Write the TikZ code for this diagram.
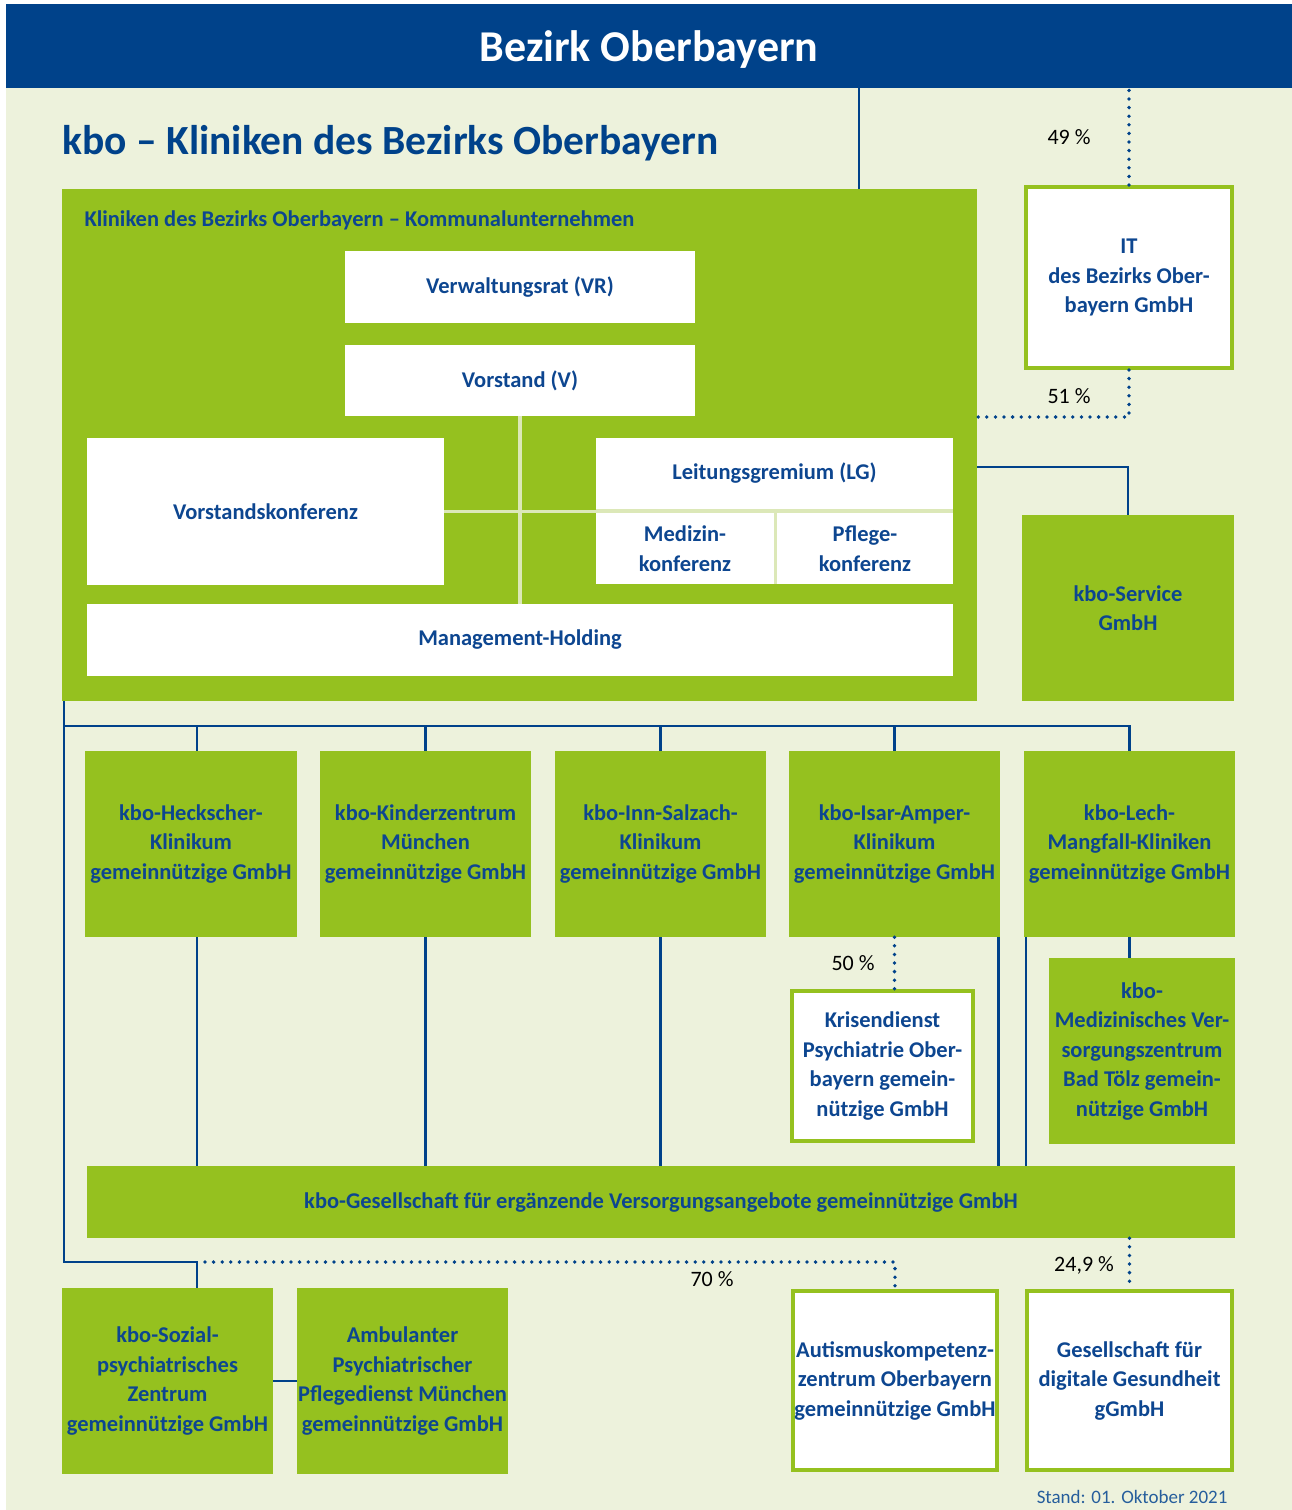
\documentclass[tikz,border=0pt]{standalone}
\usepackage{fontspec}
\setmainfont{Carlito}
\definecolor{kblue}{HTML}{00428A}
\definecolor{kgreen}{HTML}{95C11F}
\definecolor{kbg}{HTML}{EDF2DC}
\definecolor{ktext}{HTML}{0D4690}
\definecolor{klight}{HTML}{DCE8B8}
\begin{document}
\begin{tikzpicture}[x=1pt,y=-1pt,
  boxfont/.style={font=\fontsize{22.5}{29.5}\selectfont\bfseries, text=ktext, align=center},
  gbox/.style={boxfont, fill=kgreen, inner sep=0pt},
  wbox/.style={boxfont, fill=white, inner sep=0pt},
  obox/.style={boxfont, fill=white, draw=kgreen, line width=4pt, inner sep=0pt},
  conn/.style={draw=kblue, line width=2.6pt},
  dotline/.style={draw=kblue, line width=3.8pt, line cap=round, dash pattern=on 0pt off 8.6pt},
  sepline/.style={draw=klight, line width=3.5pt},
  pct/.style={font=\fontsize{22}{26}\selectfont, text=black}]
\useasboundingbox (0,0) rectangle (1292,1510);
\fill[white] (0,0) rectangle (1292,1510);
\fill[kbg] (6,88) rectangle (1292,1510);
% header
\node[fill=kblue, minimum width=1286, minimum height=84, inner sep=0pt] (head) at (649,46) {};
\node[text=white, font=\fontsize{44}{50}\selectfont\bfseries] (headtxt) at (649,50) {Bezirk Oberbayern};
\node[anchor=west, text=kblue, font=\fontsize{41.5}{48}\selectfont\bfseries] (title) at (59,143) {kbo – Kliniken des Bezirks Oberbayern};
% main box
\node[fill=kgreen, minimum width=915, minimum height=512, inner sep=0pt] (main) at (519.5,445) {};
\node[anchor=west, text=ktext, font=\fontsize{22.5}{26}\selectfont\bfseries] (mainlbl) at (81,220) {Kliniken des Bezirks Oberbayern – Kommunalunternehmen};
\node[wbox, minimum width=350, minimum height=72] (vr) at (520,287) {Verwaltungsrat (VR)};
\node[wbox, minimum width=350, minimum height=71] (vs) at (520,380.5) {Vorstand (V)};
\node[wbox, minimum width=357, minimum height=147] (vk) at (265.5,511.5) {Vorstandskonferenz};
\fill[klight] (596,438) rectangle (953,584);
\node[wbox, minimum width=357, minimum height=71] (lg) at (774.5,473.5) {Leitungsgremium (LG)};
\node[wbox, minimum width=178, minimum height=71] (mk) at (685,548.5) {Medizin-\\konferenz};
\node[wbox, minimum width=176, minimum height=71] (pk) at (865,548.5) {Pflege-\\konferenz};
\node[wbox, minimum width=866, minimum height=72] (mh) at (520,640) {Management-Holding};
\draw[sepline] (vs.south) -- (vs.south |- mh.north);
\draw[sepline] (vk.east) -- (vk.east -| lg.west);
% IT and service
\node[obox, minimum width=206, minimum height=181] (it) at (1129,277.5) {IT\\des Bezirks Ober-\\bayern GmbH};
\node[gbox, minimum width=212, minimum height=186] (svc) at (1128,608) {kbo-Service\\GmbH};
% row of clinics
\node[gbox, minimum width=212, minimum height=186] (heck) at (191,844) {kbo-Heckscher-\\Klinikum\\gemeinnützige GmbH};
\node[gbox, minimum width=211, minimum height=186] (kind) at (425.5,844) {kbo-Kinderzentrum\\München\\gemeinnützige GmbH};
\node[gbox, minimum width=211, minimum height=186] (inn) at (660.5,844) {kbo-Inn-Salzach-\\Klinikum\\gemeinnützige GmbH};
\node[gbox, minimum width=211, minimum height=186] (isar) at (894.5,844) {kbo-Isar-Amper-\\Klinikum\\gemeinnützige GmbH};
\node[gbox, minimum width=211, minimum height=186] (lech) at (1129.5,844) {kbo-Lech-\\Mangfall-Kliniken\\gemeinnützige GmbH};
\node[obox, minimum width=181, minimum height=150] (kris) at (882.5,1066) {Krisendienst\\Psychiatrie Ober-\\bayern gemein-\\nützige GmbH};
\node[gbox, minimum width=186, minimum height=186] (mvz) at (1142,1051) {kbo-\\Medizinisches Ver-\\sorgungszentrum\\Bad Tölz gemein-\\nützige GmbH};
\node[gbox, minimum width=1148, minimum height=72] (geva) at (661,1202) {kbo-Gesellschaft für ergänzende Versorgungsangebote gemeinnützige GmbH};
% bottom row
\node[gbox, minimum width=211, minimum height=186] (soz) at (167.5,1381) {kbo-Sozial-\\psychiatrisches\\Zentrum\\gemeinnützige GmbH};
\node[gbox, minimum width=211, minimum height=186] (amb) at (402.5,1381) {Ambulanter\\Psychiatrischer\\Pflegedienst München\\gemeinnützige GmbH};
\node[obox, minimum width=204, minimum height=179] (aut) at (895,1380.5) {Autismuskompetenz-\\zentrum Oberbayern\\gemeinnützige GmbH};
\node[obox, minimum width=205, minimum height=179] (gdg) at (1129.5,1380.5) {Gesellschaft für\\digitale Gesundheit\\gGmbH};
% coordinates
\coordinate (top) at (64,701);
\coordinate (bus) at (64,726);
\coordinate (low) at (64,1262);
\coordinate (lowr) at (197,1262);
\coordinate (d51) at (1129,417);
\coordinate (s1) at (977,467);
% connectors
\draw[conn] ([xshift=210]head.south) -- ([xshift=210]head.south |- main.north);
\draw[dotline] (it.north) -- (it.north |- head.south);
\draw[dotline] (it.south) -- (d51) -- (d51 -| main.east);
\draw[conn] (s1) -| (svc.north);
\draw[conn] (top) -- (low) -- (lowr) -- (lowr |- soz.north);
\draw[conn] (bus) -- (bus -| lech.north) -- (lech.north);
\draw[conn] ([xshift=6]heck.north) -- ([xshift=6]heck.north |- bus);
\draw[conn] ([xshift=6]heck.south) -- ([xshift=6]heck.south |- geva.north);
\foreach \n in {kind,inn,isar} \draw[conn] (\n.north) -- (\n.north |- bus);
\foreach \n in {kind,inn} \draw[conn] (\n.south) -- (\n.south |- geva.north);
\draw[conn] ([xshift=-1.5]isar.south east) -- ([xshift=-1.5]isar.south east |- geva.north);
\draw[conn] ([xshift=2]lech.south west) -- ([xshift=2]lech.south west |- geva.north);
\draw[conn] (lech.south) -- (lech.south |- mvz.north);
\draw[dotline] (isar.south) -- (isar.south |- kris.north);
\draw[dotline] ([xshift=8]lowr) -- (lowr -| aut.north) -- (aut.north);
\draw[dotline] (geva.south -| gdg.north) -- (gdg.north);
\draw[conn] (soz.east) -- (amb.west);
% labels
\node[pct] (p49) at (1069,137) {49 \%};
\node[pct] (p51) at (1069,396) {51 \%};
\node[pct] (p50) at (853,963) {50 \%};
\node[pct] (p70) at (712,1279) {70 \%};
\node[pct] (p249) at (1084,1265) {24,9 \%};
\node[anchor=east, text=kblue!85!white, font=\fontsize{19}{22}\selectfont] (stand) at (1231,1497) {Stand: 01. Oktober 2021};
\end{tikzpicture}
\end{document}
